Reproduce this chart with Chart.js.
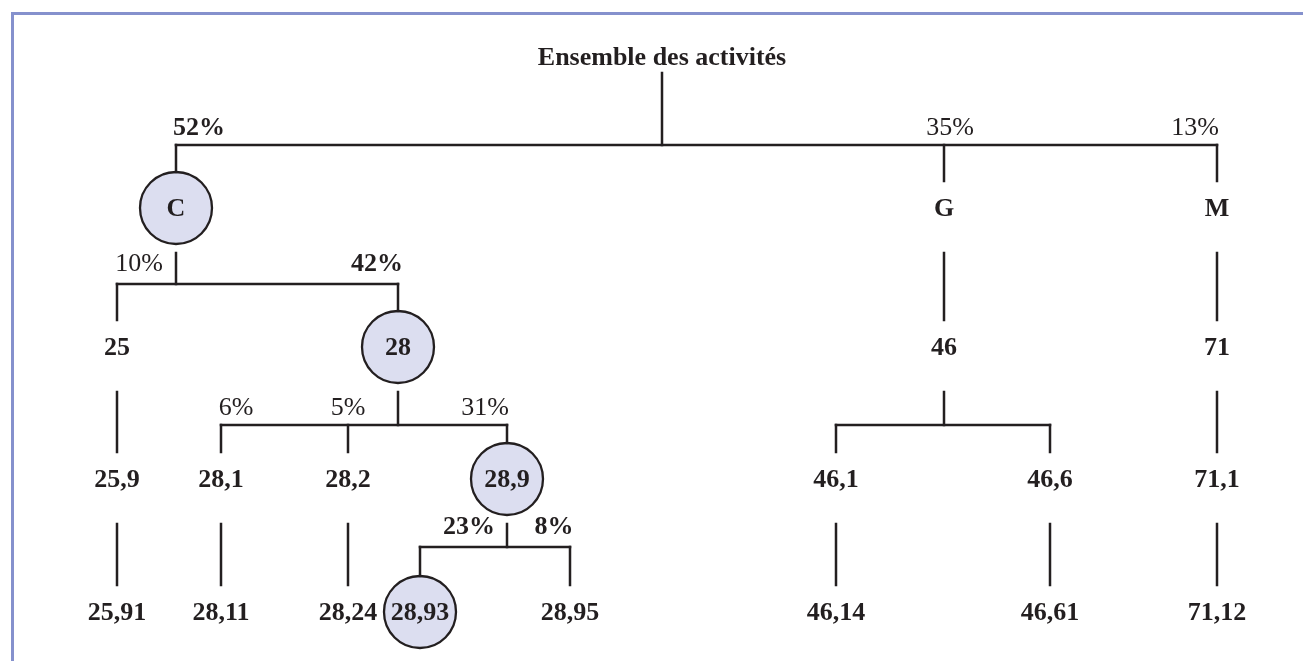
<!DOCTYPE html>
<html>
<head>
<meta charset="utf-8">
<script src="https://cdn.jsdelivr.net/npm/chart.js@4.4.1/dist/chart.umd.min.js"></script>
<style>
  html, body { margin: 0; padding: 0; background: #ffffff; }
  #wrap { position: relative; width: 1303px; height: 661px; overflow: hidden; }
  #frame {
    position: absolute; left: 11px; top: 12px; right: -10px; bottom: -10px;
    border-top: 3px solid #8591cd; border-left: 3px solid #8591cd;
  }
  canvas { position: absolute; left: 0; top: 0; }
</style>
</head>
<body>
<div id="wrap">
  <div id="frame"></div>
  <canvas id="tree" width="1303" height="661"></canvas>
</div>
<script>
// ------------------------------------------------------------
// Activity tree: nodes, their parent and their share
// ------------------------------------------------------------

const NODE_LABELS = [
  "Ensemble des activités",
  "C", "G", "M",
  "25", "28", "46", "71",
  "25,9", "28,1", "28,2", "28,9", "46,1", "46,6", "71,1",
  "25,91", "28,11", "28,24", "28,93", "28,95", "46,14", "46,61", "71,12",
];

const NODE_PARENT = [
  -1,
  0, 0, 0,
  1, 1, 2, 3,
  4, 5, 5, 5, 6, 6, 7,
  8, 9, 10, 11, 11, 12, 13, 14,
];

const NODE_SHARE = [
  "",
  "52%", "35%", "13%",
  "10%", "42%", "", "",
  "", "6%", "5%", "31%", "", "", "",
  "", "", "", "23%", "8%", "", "", "",
];

const BOLD_SHARES = [1, 5, 18, 19];
const HIGHLIGHTED = [1, 5, 11, 18];

// layout (pixel units of the canvas)
const NODE_X = [662, 176, 944, 1217, 117, 398, 944, 1217, 117, 221, 348, 507, 836, 1050, 1217,
  117, 221, 348, 420, 570, 836, 1050, 1217];
const SHARE_X = [0, 199, 950, 1195, 139, 377, 0, 0, 0, 236, 348, 485, 0, 0, 0,
  0, 0, 0, 469, 554, 0, 0, 0];
const LEVEL_Y = [57, 208, 347, 479, 612];
const BAR_Y = [145, 284, 425, 547];
const SHARE_Y = [127, 263, 407, 526];

const INK = "#231f20";
const FILL = "#dcdef0";
const RADIUS = 36;
const FONT = "'Liberation Serif', 'DejaVu Serif', serif";
const FONT_SIZE = 26;

const levelOf = (i) => (NODE_PARENT[i] < 0 ? 0 : levelOf(NODE_PARENT[i]) + 1);
const isHighlighted = (i) => HIGHLIGHTED.includes(i);

const nodeTop = (i) => LEVEL_Y[levelOf(i)] - (isHighlighted(i) ? RADIUS : 27);
const nodeBottom = (i) => (i === 0 ? 73 : LEVEL_Y[levelOf(i)] + 45);

// build connector segments from the tree
const buildSegments = () => {
  const segs = [];
  NODE_LABELS.forEach((_, p) => {
    const kids = NODE_PARENT.map((par, i) => (par === p ? i : -1)).filter((i) => i >= 0);
    if (!kids.length) return;
    if (kids.length === 1) {
      const k = kids[0];
      segs.push([{ x: NODE_X[k], y: nodeBottom(p) }, { x: NODE_X[k], y: nodeTop(k) }]);
      return;
    }
    const barY = BAR_Y[levelOf(p)];
    const xs = kids.map((k) => NODE_X[k]);
    segs.push([{ x: NODE_X[p], y: nodeBottom(p) }, { x: NODE_X[p], y: barY }]);
    segs.push([{ x: Math.min(...xs), y: barY }, { x: Math.max(...xs), y: barY }]);
    kids.forEach((k) => {
      segs.push([{ x: NODE_X[k], y: barY }, { x: NODE_X[k], y: nodeTop(k) }]);
    });
  });
  return segs;
};

const lineDatasets = buildSegments().map((seg) => ({
  type: "line",
  data: seg,
  borderColor: INK,
  borderWidth: 2.5,
  borderCapStyle: "square",
  pointRadius: 0,
  fill: false,
  tension: 0,
  clip: false,
}));

const circleDataset = {
  type: "scatter",
  data: HIGHLIGHTED.map((i) => ({ x: NODE_X[i], y: LEVEL_Y[levelOf(i)] })),
  pointRadius: RADIUS,
  pointHoverRadius: RADIUS,
  pointStyle: "circle",
  backgroundColor: FILL,
  borderColor: INK,
  borderWidth: 2.3,
  clip: false,
};

const labelPlugin = {
  id: "treeLabels",
  afterDatasetsDraw(chart) {
    const { ctx, scales } = chart;
    ctx.save();
    ctx.fillStyle = INK;
    ctx.textAlign = "center";
    ctx.textBaseline = "middle";
    NODE_LABELS.forEach((label, i) => {
      const lvl = levelOf(i);
      ctx.font = `bold ${FONT_SIZE}px ${FONT}`;
      ctx.fillText(label, scales.x.getPixelForValue(NODE_X[i]), scales.y.getPixelForValue(LEVEL_Y[lvl]) + 1);
      const share = NODE_SHARE[i];
      if (share) {
        ctx.font = `${BOLD_SHARES.includes(i) ? "bold " : ""}${FONT_SIZE}px ${FONT}`;
        ctx.fillText(share, scales.x.getPixelForValue(SHARE_X[i]), scales.y.getPixelForValue(SHARE_Y[lvl - 1]) + 1);
      }
    });
    ctx.restore();
  },
};

new Chart(document.getElementById("tree").getContext("2d"), {
  type: "scatter",
  data: { datasets: [...lineDatasets, circleDataset] },
  options: {
    responsive: false,
    animation: false,
    events: [],
    layout: { padding: 0, autoPadding: false },
    plugins: { legend: { display: false }, tooltip: { enabled: false } },
    scales: {
      x: { type: "linear", min: 0, max: 1303, display: false },
      y: { type: "linear", min: 0, max: 661, reverse: true, display: false },
    },
  },
  plugins: [labelPlugin],
});
</script>
</body>
</html>
